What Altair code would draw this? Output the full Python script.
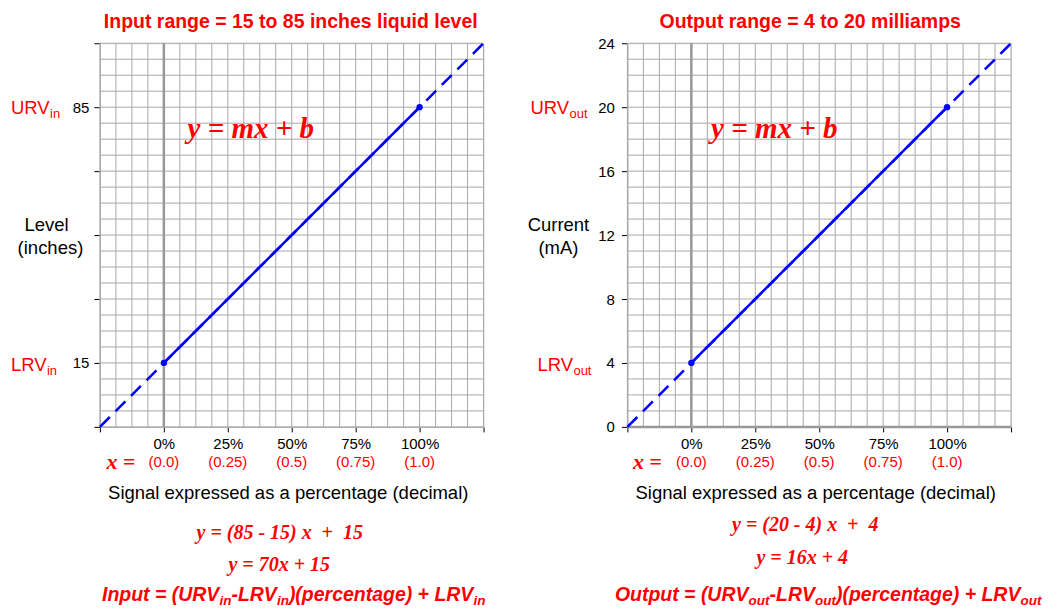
import altair as alt
import pandas as pd
import numpy as np

# ---------------- data ----------------
pct_ends = [0.0, 1.0]                 # 0% and 100% signal
pct_ext = [-0.25, 1.25]               # extended (dashed) line ends
in_vals = [15, 85]                    # LRV / URV input (inches)
in_ext = [-2.5, 102.5]
out_vals = [4, 20]                    # LRV / URV output (mA)
out_ext = [0, 24]
x_ticks = [-0.25, 0, 0.25, 0.5, 0.75, 1.0, 1.25]
dec_pos = [0, 0.25, 0.5, 0.75, 1.0]
dec_labels = ["(0.0)", "(0.25)", "(0.5)", "(0.75)", "(1.0)"]
in_ticks = [-2.5, 15, 32.5, 50, 67.5, 85, 102.5]
out_ticks = [0, 4, 8, 12, 16, 20, 24]

# grid (16 px cells)
x_grid = list(np.round(np.arange(-0.25, 1.2501, 0.0625), 4))
in_grid = list(np.round(np.arange(-2.5, 102.51, 4.375), 4))
out_grid = list(range(0, 25))

RED = "#ff0000"
BLUE = "#0000ff"
GRID = "#a8a8a8"
SANS = "Liberation Sans"
SERIF = "Liberation Serif"
NB = "\u00a0"

W = 384
H = 384

SANS_REG = {'U': 722, 'R': 722, 'V': 667, 'L': 556, 'i': 222, 'n': 556, 'o': 556, 'u': 556, 't': 278}
SANS_BOLD = {' ': 278, '(': 333, ')': 333, '+': 584, '-': 333, '=': 584, 'I': 278, 'L': 611, 'O': 778,
             'R': 722, 'U': 722, 'V': 667, 'a': 556, 'c': 556, 'e': 556, 'g': 611, 'i': 278, 'n': 611,
             'o': 611, 'p': 611, 'r': 389, 't': 333, 'u': 611}


def width(s, size, table):
    return sum(table.get(c, 556) for c in s) * size / 1000.0


def txt(text, x, y, size, color="black", font=SANS, weight="normal", style="normal",
        align="left", baseline="alphabetic"):
    return alt.Chart(pd.DataFrame({"t": [text]})).mark_text(
        font=font, fontSize=size, color=color, fontWeight=weight, fontStyle=style,
        align=align, baseline=baseline
    ).encode(x=alt.value(x), y=alt.value(y), text="t:N")


def rich(pieces, x, y, color, weight, style, table, align="left"):
    total = sum(width(s, sz, table) for s, sz, dy in pieces)
    if align == "center":
        x = x - total / 2
    layers = []
    for s, sz, dy in pieces:
        layers.append(txt(s, x, y + dy, sz, color=color, weight=weight, style=style))
        x += width(s, sz, table)
    return layers


def panel(vals, ext, y_domain, y_ticks, y_grid, label_expr, lab_pad, zero_h, texts):
    xs = alt.Scale(domain=[-0.25, 1.25], nice=False, zero=False)
    ys = alt.Scale(domain=y_domain, nice=False, zero=False)
    xa = alt.Axis(values=x_ticks, grid=False, title=None, domainColor=GRID, domainWidth=1,
                  tickColor="black", tickSize=5, labelFontSize=15, labelFont=SANS,
                  labelColor="black", labelPadding=5, labelFlush=False, labelOverlap=False,
                  labelExpr="datum.value >= 0 && datum.value <= 1 ? format(datum.value, '.0%') : ''")
    ya = alt.Axis(values=y_ticks, grid=False, title=None, domainColor=GRID, domainWidth=1,
                  tickColor="black", tickSize=6, labelFontSize=15, labelFont=SANS,
                  labelColor="black", labelPadding=lab_pad, labelFlush=False, labelOverlap=False,
                  labelExpr=label_expr)
    X = lambda f: alt.X(f, type="quantitative", scale=xs, axis=xa)
    Y = lambda f: alt.Y(f, type="quantitative", scale=ys, axis=ya)

    vgrid = alt.Chart(pd.DataFrame({"x": x_grid})).mark_rule(color=GRID, strokeWidth=1).encode(x=X("x"))
    hgrid = alt.Chart(pd.DataFrame({"y": y_grid})).mark_rule(color=GRID, strokeWidth=1).encode(y=Y("y"))
    zv = alt.Chart(pd.DataFrame({"x": [0.0]})).mark_rule(color="#999999", strokeWidth=2.5).encode(x=X("x"))
    layers = [vgrid, hgrid, zv]
    if zero_h:
        zh = alt.Chart(pd.DataFrame({"y": [0.0]})).mark_rule(color="#999999", strokeWidth=2.5).encode(y=Y("y"))
        layers.append(zh)
    dashed = alt.Chart(pd.DataFrame({"x": pct_ext, "y": ext})).mark_line(
        color=BLUE, strokeWidth=2.5, strokeDash=[14, 8]).encode(x=X("x"), y=Y("y"))
    solid = alt.Chart(pd.DataFrame({"x": pct_ends, "y": vals})).mark_line(
        color=BLUE, strokeWidth=2.5).encode(x=X("x"), y=Y("y"))
    pts = alt.Chart(pd.DataFrame({"x": pct_ends, "y": vals})).mark_circle(
        color=BLUE, size=40, opacity=1).encode(x=X("x"), y=Y("y"))
    dec = alt.Chart(pd.DataFrame({"x": dec_pos, "t": dec_labels})).mark_text(
        color=RED, fontSize=15, font=SANS, baseline="middle").encode(
        x=X("x"), y=alt.value(419.5), text="t:N")
    layers += [dashed, solid, pts, dec]
    layers += texts
    return alt.layer(*layers).properties(width=W, height=H)


SER = dict(font=SERIF, weight="bold", style="italic", align="center")

left_texts = [
    txt("Input range = 15 to 85 inches liquid level", 191, -15, 19.5, RED, weight="bold", align="center"),
    txt("Level", -53.5, 188, 18.5, align="center"),
    txt("(inches)", -49.5, 211, 18.5, align="center"),
    txt("y = mx + b", 151, 95, 29, RED, **SER),
    txt("x =", 21, 419.5, 22, RED, baseline="middle", **SER),
    txt("Signal expressed as a percentage (decimal)", 188.5, 456, 18.5, align="center"),
    txt("y = (85 - 15) x" + NB + " +" + NB + " 15", 180, 496, 20, RED, **SER),
    txt("y = 70x + 15", 179.5, 528, 20, RED, **SER),
]
left_texts += rich([("URV", 18.5, 0), ("in", 13, 4)], -89, 71, RED, "normal", "normal", SANS_REG)
left_texts += rich([("LRV", 18.5, 0), ("in", 13, 4)], -89, 328, RED, "normal", "normal", SANS_REG)
left_texts += rich([("Input = (URV", 19.5, 0), ("in", 13.5, 4), ("-LRV", 19.5, 0), ("in", 13.5, 4),
                    (")(percentage) + LRV", 19.5, 0), ("in", 13.5, 4)],
                   194, 558, RED, "bold", "italic", SANS_BOLD, align="center")

right_texts = [
    txt("Output range = 4 to 20 milliamps", 183, -15, 19.5, RED, weight="bold", align="center"),
    txt("Current", -69, 188, 18.5, align="center"),
    txt("(mA)", -69, 211, 18.5, align="center"),
    txt("y = mx + b", 147, 95, 29, RED, **SER),
    txt("x =", 20, 419.5, 22, RED, baseline="middle", **SER),
    txt("Signal expressed as a percentage (decimal)", 188.5, 456, 18.5, align="center"),
    txt("y = (20 - 4) x" + NB + " +" + NB + " 4", 178, 488, 20, RED, **SER),
    txt("y = 16x + 4", 175, 521, 20, RED, **SER),
]
right_texts += rich([("URV", 18.5, 0), ("out", 13, 4)], -97, 71, RED, "normal", "normal", SANS_REG)
right_texts += rich([("LRV", 18.5, 0), ("out", 13, 4)], -90, 328, RED, "normal", "normal", SANS_REG)
right_texts += rich([("Output = (URV", 19.5, 0), ("out", 13.5, 4), ("-LRV", 19.5, 0), ("out", 13.5, 4),
                     (")(percentage) + LRV", 19.5, 0), ("out", 13.5, 4)],
                    201, 558, RED, "bold", "italic", SANS_BOLD, align="center")

left = panel(in_vals, in_ext, [-2.5, 102.5], in_ticks, in_grid,
             "datum.value == 15 || datum.value == 85 ? datum.label : ''", 5, False, left_texts)
right = panel(out_vals, out_ext, [0, 24], out_ticks, out_grid,
              "datum.label", 7, True, right_texts)

chart = alt.hconcat(left, right, spacing=144, bounds="flush").properties(
    padding={"left": 2, "top": 3, "right": 0, "bottom": 2}
).configure_view(stroke=None).configure(background="white")

chart.save("out.html", embed_options={"renderer": "svg", "actions": False})
